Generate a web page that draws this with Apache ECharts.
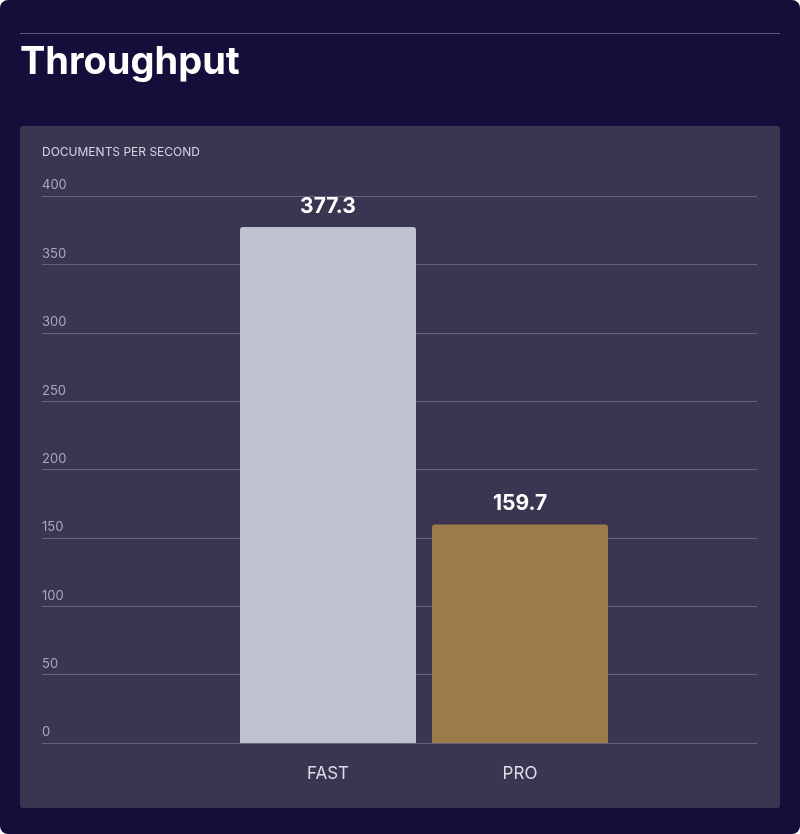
<!DOCTYPE html>
<html>
<head>
<meta charset="utf-8">
<script src="https://cdn.jsdelivr.net/npm/echarts@6/dist/echarts.min.js"></script>
<style>
  html, body { margin: 0; padding: 0; background: #fff; }
  #wrap { width: 800px; height: 834px; background: #140f3a; border-radius: 8px; position: relative; }
  #main { width: 800px; height: 834px; }
</style>
</head>
<body>
<div id="wrap"><div id="main"></div></div>
<script>
// data
var categories = ['FAST', 'PRO'];
var values = [377.3, 159.7];
var barColors = ['#bec2cf', '#9c7b49'];

var myChart = echarts.init(document.getElementById('main'));
var option = {
  graphic: [
    { type: 'rect', shape: { x: 20, y: 33, width: 760, height: 1 }, style: { fill: '#5b5778' } },
    { type: 'text', left: 20, top: 44, style: { text: 'Throughput', fill: '#fff', font: 'bold 38px Inter, "Noto Sans", sans-serif' } },
    { type: 'rect', z: -10, shape: { x: 20, y: 126, width: 760, height: 682, r: 3 }, style: { fill: '#3a3652' } },
    { type: 'text', left: 42, top: 146, style: { text: 'DOCUMENTS PER SECOND', fill: '#d6d4e0', font: '12px Inter, "Noto Sans", sans-serif' } }
  ],
  grid: [
    { left: 42, right: 43, top: 196, bottom: 91 },
    { left: 232, right: 184, top: 196, bottom: 91 }
  ],
  xAxis: [
    { gridIndex: 0, type: 'category', data: categories, show: false },
    {
      gridIndex: 1, type: 'category', data: categories,
      axisLine: { show: false }, axisTick: { show: false },
      axisLabel: { color: '#dcdbe6', fontSize: 17, margin: 22, fontFamily: 'Inter, "Noto Sans", sans-serif' }
    }
  ],
  yAxis: [
    {
      gridIndex: 0, type: 'value', min: 0, max: 400, interval: 50,
      axisLine: { show: false }, axisTick: { show: false },
      splitLine: { lineStyle: { color: '#67637f', width: 1 } },
      axisLabel: { inside: true, verticalAlign: 'bottom', margin: 0, padding: [0, 0, 4, 0], color: '#a9a6bd', fontSize: 13, fontFamily: 'Inter, "Noto Sans", sans-serif' }
    },
    { gridIndex: 1, type: 'value', min: 0, max: 400, show: false, splitLine: { show: false } }
  ],
  series: [{
    type: 'bar', xAxisIndex: 1, yAxisIndex: 1, barWidth: 176,
    data: values.map(function (v, i) { return { value: v, itemStyle: { color: barColors[i] } }; }),
    itemStyle: { borderRadius: [3, 3, 0, 0] },
    label: { show: true, position: 'top', distance: 10, color: '#fff', fontSize: 21, fontWeight: 'bold', fontFamily: 'Inter, "Noto Sans", sans-serif' }
  }]
};
myChart.setOption(option);
</script>
</body>
</html>
